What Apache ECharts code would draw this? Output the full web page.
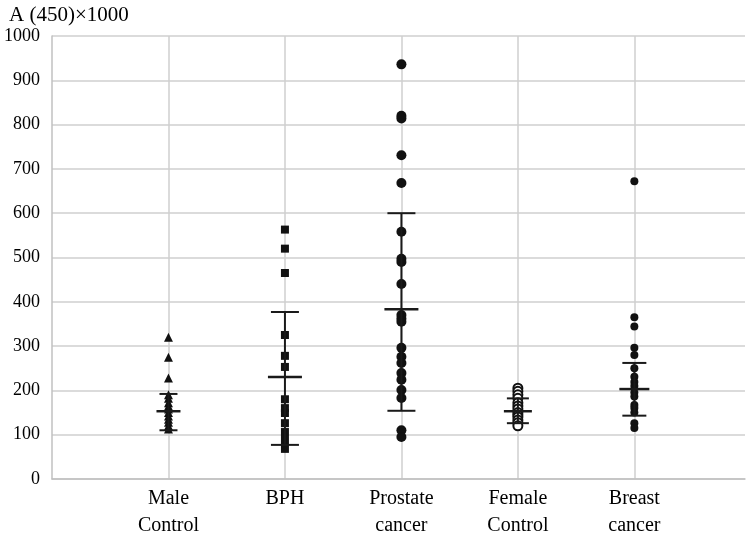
<!DOCTYPE html>
<html>
<head>
<meta charset="utf-8">
<script src="https://cdn.jsdelivr.net/npm/echarts@6/dist/echarts.min.js"></script>
<style>html,body{margin:0;padding:0;background:#fff;}#c{width:750px;height:536px;}</style>
</head>
<body>
<div id="c"></div>
<script>
const categories = ['Male\nControl', 'BPH', 'Prostate\ncancer', 'Female\nControl', 'Breast\ncancer'];
const yTicks = [0, 100, 200, 300, 400, 500, 600, 700, 800, 900, 1000];
const maleControl = [320, 275, 228, 190, 182, 172, 165, 158, 150, 142, 135, 128, 120, 113];
const bph = [563, 520, 465, 325, 278, 253, 180, 160, 149, 126, 106, 88, 68];
const prostateCancer = [936, 820, 814, 731, 668, 558, 497, 490, 440, 370, 362, 355, 296, 276, 262, 239, 224, 201, 183, 110, 95];
const femaleControl = [205, 198, 190, 182, 172, 165, 158, 150, 145, 140, 133, 127, 120];
const breastCancer = [672, 365, 344, 296, 280, 250, 231, 219, 210, 195, 186, 167, 160, 150, 126, 115];
const means = [153, 230, 383, 153, 203];
const upperSD = [192, 377, 600, 182, 262];
const lowerSD = [110, 77, 154, 126, 143];

// style constants (pixel half-widths of caps)
const capHalf = [9, 14, 14, 11, 12];
const meanHalf = [12, 17, 17, 14, 15];

const groups = [maleControl, bph, prostateCancer, femaleControl, breastCancer];
const symbols = ['triangle', 'rect', 'circle', 'emptyCircle', 'circle'];
const sizes = [9, 8, 10, 9, 8];

const chart = echarts.init(document.getElementById('c'));
const serif = '"Liberation Serif", "Times New Roman", serif';

const scatterSeries = groups.map((g, i) => ({
  type: 'scatter',
  symbol: symbols[i],
  symbolSize: sizes[i],
  itemStyle: symbols[i] === 'emptyCircle'
    ? { color: '#111', borderWidth: 2.5, opacity: 1 }
    : { color: '#111', opacity: 1 },
  data: g.map(v => [i + 1, v]),
  z: 2
}));

const errData = means.map((m, i) => [i + 1, m, upperSD[i], lowerSD[i], i]);

const option = {
  animation: false,
  backgroundColor: '#fff',
  title: {
    text: 'A (450)×1000',
    left: 4, top: 0,
    textStyle: { fontFamily: serif, fontSize: 21, fontWeight: 'normal', color: '#000' }
  },
  grid: { left: 52, right: 5, top: 36, bottom: 57, containLabel: false, outerBoundsMode: 'none' },
  xAxis: {
    type: 'value', min: 0, max: 5.95, interval: 1,
    axisLine: { show: true, lineStyle: { color: '#c0c0c0', width: 1.5 } },
    axisTick: { show: false },
    splitLine: { show: true, showMinLine: false, showMaxLine: false, lineStyle: { color: '#cfcfcf', width: 1.5 } },
    axisLabel: {
      formatter: v => (Number.isInteger(v) ? (categories[v - 1] || '') : ''),
      fontFamily: serif, fontSize: 20, color: '#000', lineHeight: 27, margin: 6
    }
  },
  yAxis: {
    type: 'value', min: yTicks[0], max: yTicks[yTicks.length - 1], interval: 100,
    axisLine: { show: true, lineStyle: { color: '#c0c0c0', width: 1.5 } },
    axisTick: { show: false },
    splitLine: { show: true, lineStyle: { color: '#cfcfcf', width: 1.5 } },
    axisLabel: { formatter: v => String(v), fontFamily: serif, fontSize: 18, color: '#000', margin: 12 }
  },
  series: scatterSeries.concat([{
    type: 'custom',
    z: 3,
    data: errData,
    renderItem: (params, api) => {
      const x = api.value(0), m = api.value(1), u = api.value(2), l = api.value(3), idx = api.value(4);
      const pm = api.coord([x, m]), pu = api.coord([x, u]), pl = api.coord([x, l]);
      const ch = capHalf[idx], mh = meanHalf[idx];
      const st = { stroke: '#1a1a1a', lineWidth: 2 };
      return {
        type: 'group',
        children: [
          { type: 'line', shape: { x1: pu[0], y1: pu[1], x2: pl[0], y2: pl[1] }, style: st },
          { type: 'line', shape: { x1: pu[0] - ch, y1: pu[1], x2: pu[0] + ch, y2: pu[1] }, style: st },
          { type: 'line', shape: { x1: pl[0] - ch, y1: pl[1], x2: pl[0] + ch, y2: pl[1] }, style: st },
          { type: 'line', shape: { x1: pm[0] - mh, y1: pm[1], x2: pm[0] + mh, y2: pm[1] }, style: { stroke: '#1a1a1a', lineWidth: 2.5 } }
        ]
      };
    }
  }])
};
chart.setOption(option);
</script>
</body>
</html>
